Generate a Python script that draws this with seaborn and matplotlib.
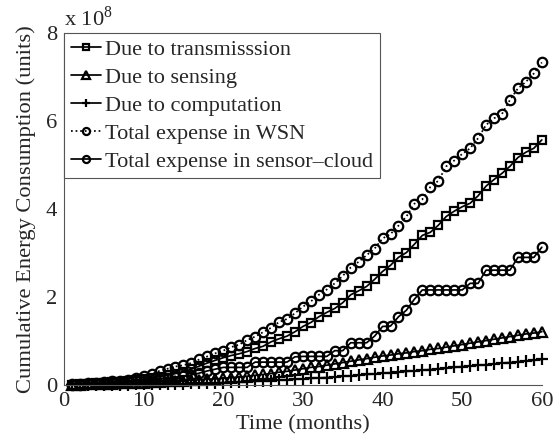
import numpy as np
import pandas as pd
import matplotlib
matplotlib.use("Agg")
import matplotlib.pyplot as plt
import seaborn as sns

months = list(range(1, 61))

transmission = [0.01, 0.02, 0.03, 0.04, 0.05, 0.06, 0.07, 0.09, 0.11, 0.13,
                0.16, 0.19, 0.22, 0.26, 0.30, 0.36, 0.43, 0.50, 0.56, 0.62,
                0.67, 0.71, 0.76, 0.83, 0.88, 0.98, 1.05, 1.11, 1.21, 1.33,
                1.42, 1.55, 1.65, 1.74, 1.87, 2.05, 2.14, 2.24, 2.40, 2.58,
                2.72, 2.90, 3.01, 3.20, 3.40, 3.47, 3.63, 3.83, 3.95, 4.05,
                4.13, 4.30, 4.52, 4.67, 4.81, 4.97, 5.17, 5.29, 5.38, 5.57]

sensing = [0.005, 0.01, 0.015, 0.02, 0.025, 0.03, 0.035, 0.04, 0.045, 0.05,
           0.06, 0.07, 0.08, 0.09, 0.10, 0.11, 0.12, 0.13, 0.14, 0.15,
           0.17, 0.18, 0.20, 0.22, 0.24, 0.26, 0.29, 0.31, 0.34, 0.37,
           0.40, 0.42, 0.45, 0.48, 0.51, 0.54, 0.57, 0.60, 0.63, 0.66,
           0.68, 0.71, 0.73, 0.76, 0.78, 0.81, 0.83, 0.86, 0.89, 0.92,
           0.95, 0.98, 1.01, 1.04, 1.07, 1.10, 1.13, 1.16, 1.18, 1.21]

computation = [0.0, 0.0, 0.0, 0.005, 0.005, 0.01, 0.01, 0.01, 0.015, 0.015,
               0.02, 0.02, 0.025, 0.03, 0.03, 0.035, 0.04, 0.045, 0.05, 0.055,
               0.06, 0.07, 0.075, 0.085, 0.09, 0.10, 0.11, 0.12, 0.13, 0.14,
               0.15, 0.16, 0.17, 0.18, 0.20, 0.21, 0.22, 0.24, 0.25, 0.27,
               0.28, 0.29, 0.31, 0.32, 0.34, 0.35, 0.37, 0.38, 0.40, 0.42,
               0.43, 0.45, 0.46, 0.48, 0.50, 0.51, 0.53, 0.55, 0.56, 0.58]

total_wsn = [0.02, 0.03, 0.04, 0.05, 0.06, 0.08, 0.10, 0.12, 0.15, 0.20,
             0.26, 0.32, 0.37, 0.42, 0.45, 0.50, 0.58, 0.65, 0.72, 0.78,
             0.86, 0.92, 1.02, 1.10, 1.20, 1.30, 1.43, 1.50, 1.63, 1.78,
             1.90, 2.05, 2.17, 2.31, 2.48, 2.67, 2.80, 2.95, 3.10, 3.33,
             3.43, 3.62, 3.83, 4.12, 4.22, 4.50, 4.64, 4.97, 5.10, 5.25,
             5.38, 5.61, 5.91, 6.06, 6.16, 6.48, 6.74, 6.89, 7.08, 7.33]

total_cloud = [0.005, 0.01, 0.015, 0.02, 0.03, 0.04, 0.05, 0.06, 0.08, 0.10,
               0.12, 0.14, 0.16, 0.18, 0.20, 0.23, 0.27, 0.32, 0.36, 0.40,
               0.40, 0.40, 0.40, 0.52, 0.52, 0.52, 0.52, 0.52, 0.64, 0.65,
               0.65, 0.65, 0.65, 0.78, 0.78, 0.96, 0.96, 0.96, 1.11, 1.33,
               1.34, 1.55, 1.70, 1.95, 2.16, 2.16, 2.16, 2.16, 2.16, 2.16,
               2.31, 2.31, 2.61, 2.61, 2.61, 2.61, 2.90, 2.90, 2.90, 3.13]

labels = ["Due to transmisssion", "Due to sensing", "Due to computation",
          "Total expense in WSN", "Total expense in sensor\u2013cloud"]
x_ticks = [0, 10, 20, 30, 40, 50, 60]
y_ticks = [0, 2, 4, 6, 8]

series = [transmission, sensing, computation, total_wsn, total_cloud]
styles = [dict(marker="s", linestyle="-", markersize=5.4),
          dict(marker="^", linestyle="-", markersize=6.8),
          dict(marker="+", linestyle="-", markersize=8.5),
          dict(marker="o", linestyle=":", markersize=6.8),
          dict(marker="o", linestyle="-", markersize=6.8)]

sns.set_style("white")
plt.rcParams["font.family"] = ["Liberation Serif", "DejaVu Serif"]
plt.rcParams["mathtext.fontset"] = "custom"
plt.rcParams["mathtext.rm"] = "Liberation Serif"

fig = plt.figure(figsize=(5.54, 4.44), dpi=100)
ax = fig.add_axes([0.1155, 0.1329, 0.8625, 0.7928])

for vals, lab, st in zip(series, labels, styles):
    df = pd.DataFrame({"Month": months, "Value": vals})
    sns.lineplot(data=df, x="Month", y="Value", ax=ax, color="black",
                 linewidth=1.25, markerfacecolor="none",
                 markeredgecolor="black", markeredgewidth=1.6,
                 label=lab, clip_on=False, **st)

ax.set_xlim(0, 60)
ax.set_ylim(0, 8)
ax.set_xticks(x_ticks)
ax.set_yticks(y_ticks)
ax.tick_params(direction="in", length=4, width=0.8, color="#555555",
               labelsize=16.2, top=False, right=False, pad=5)
sns.despine(ax=ax, top=True, right=True)
for s in ("left", "bottom"):
    ax.spines[s].set_color("#555555")
    ax.spines[s].set_linewidth(0.8)
ax.set_xlabel("Time (months)", fontsize=16.2, labelpad=3)
ax.set_ylabel("Cumulative Energy Consumption (units)", fontsize=16.2, labelpad=7)
ax.text(0.0, 1.005, r"x 10$^{8}$", transform=ax.transAxes, fontsize=16.2,
        ha="left", va="bottom")

leg = ax.legend(loc="upper left", fontsize=16, frameon=True, fancybox=False,
                edgecolor="#555555", framealpha=1, borderpad=0.3,
                labelspacing=0.33, handlelength=1.35, handletextpad=0.2,
                borderaxespad=0.0, markerscale=0.75)
leg.get_frame().set_linewidth(0.8)

fig.savefig("out.png", dpi=100)
